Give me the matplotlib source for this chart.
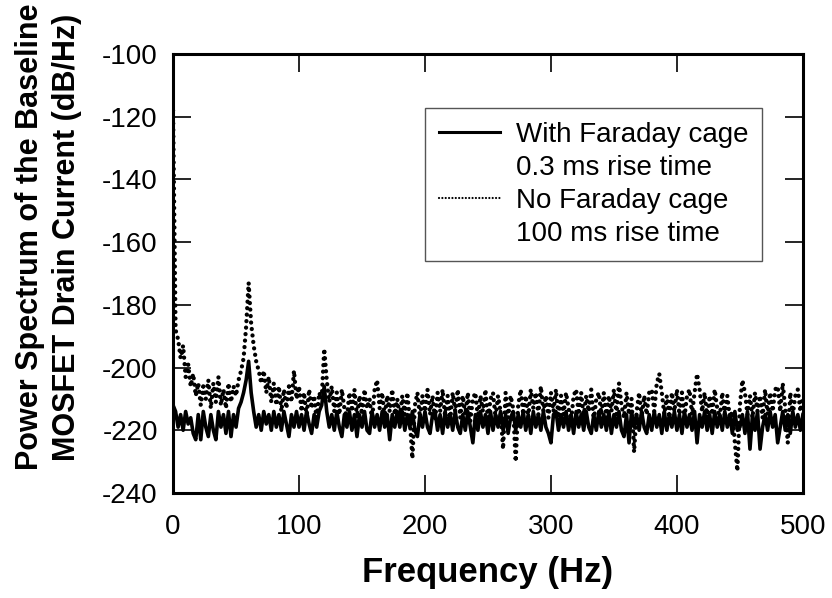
import numpy as np
import matplotlib
matplotlib.use('Agg')
from matplotlib import pyplot as plt
from matplotlib.lines import Line2D

plt.rcParams['font.family'] = ['Liberation Sans', 'DejaVu Sans']
plt.rcParams['axes.unicode_minus'] = False

# ---- power spectrum (dB/Hz), one value every 2 Hz from 0 Hz
with_cage = [
    -212, -214, -219, -215, -220, -214, -218, -216, -221, -223,
    -215, -223, -214, -219, -222, -215, -220, -223, -214, -219,
    -215, -221, -214, -222, -215, -219, -213, -211, -208, -204,
    -198, -208, -214, -219, -215, -220, -214, -218, -215, -220,
    -214, -219, -215, -220, -214, -218, -222, -215, -219, -214,
    -219, -215, -220, -214, -218, -221, -215, -219, -214, -212,
    -206, -214, -219, -215, -220, -214, -219, -222, -215, -219,
    -214, -220, -215, -222, -215, -219, -214, -220, -221, -214,
    -219, -215, -220, -214, -219, -215, -223, -215, -219, -214,
    -219, -214, -220, -215, -219, -214, -220, -222, -215, -219,
    -214, -219, -221, -215, -214, -220, -215, -221, -214, -219,
    -215, -220, -214, -219, -221, -215, -220, -214, -219, -224,
    -215, -220, -214, -219, -215, -221, -214, -220, -215, -219,
    -214, -220, -215, -221, -216, -214, -220, -215, -219, -214,
    -220, -215, -221, -214, -219, -215, -220, -214, -219, -221,
    -224, -215, -214, -220, -215, -219, -214, -220, -215, -221,
    -214, -219, -215, -220, -214, -219, -221, -215, -220, -214,
    -219, -215, -220, -214, -221, -215, -219, -214, -220, -222,
    -215, -224, -214, -219, -215, -220, -214, -219, -221, -215,
    -220, -214, -219, -215, -221, -214, -220, -215, -219, -214,
    -220, -215, -221, -214, -219, -215, -220, -214, -224, -215,
    -219, -214, -220, -215, -221, -214, -219, -215, -220, -214,
    -219, -215, -221, -214, -220, -219, -215, -221, -214, -226,
    -215, -220, -214, -226, -219, -215, -220, -214, -219, -215,
    -224, -219, -214, -220, -215, -221, -214, -219, -215, -220,
    -215]

no_cage = [
    -118, -188, -191, -197, -193, -203, -199, -206, -202, -209,
    -205, -212, -206, -210, -204, -213, -205, -211, -203, -212,
    -207, -213, -205, -211, -206, -209, -204, -201, -197, -187,
    -173, -186, -193, -198, -201, -205, -201, -208, -203, -211,
    -205, -212, -206, -214, -207, -213, -206, -211, -201, -210,
    -206, -214, -208, -216, -207, -213, -209, -217, -208, -210,
    -194, -204, -211, -206, -214, -208, -215, -207, -213, -216,
    -208, -214, -207, -216, -209, -215, -207, -213, -210, -217,
    -207, -204, -213, -208, -216, -209, -214, -207, -215, -210,
    -216, -209, -215, -208, -217, -229, -212, -208, -216, -209,
    -214, -207, -215, -209, -217, -208, -214, -207, -216, -209,
    -217, -208, -214, -207, -216, -209, -215, -208, -217, -210,
    -208, -216, -209, -214, -207, -217, -210, -208, -216, -209,
    -214, -226, -208, -216, -209, -213, -230, -212, -207, -215,
    -209, -216, -207, -213, -208, -215, -206, -214, -209, -216,
    -208, -214, -207, -216, -209, -215, -208, -213, -217, -209,
    -207, -215, -208, -216, -209, -214, -207, -217, -210, -208,
    -215, -208, -216, -209, -214, -207, -215, -205, -212, -216,
    -208, -215, -210, -227, -214, -208, -216, -209, -215, -208,
    -207, -214, -205, -202, -208, -215, -209, -216, -208, -214,
    -207, -215, -208, -216, -209, -207, -215, -208, -202, -207,
    -214, -208, -216, -209, -215, -207, -213, -216, -208, -215,
    -209, -216, -214, -224, -233, -212, -204, -208, -215, -209,
    -216, -208, -214, -209, -216, -207, -215, -208, -214, -207,
    -206, -214, -205, -213, -224, -208, -215, -209, -207, -214,
    -209]

f_with = 2 * np.arange(len(with_cage))
f_no = 2 * np.arange(len(no_cage))

x_ticks = [0, 100, 200, 300, 400, 500]
y_ticks = [-240, -220, -200, -180, -160, -140, -120, -100]

fig = plt.figure(figsize=(8.32, 5.98), dpi=100)
ax = fig.add_axes([0.208, 0.1756, 0.757, 0.7341])

dotted = (0, (0.01, 1.5))
ax.plot(f_no, no_cage, color='black', linewidth=3.1, linestyle=dotted,
        dash_capstyle='round')
ax.plot(f_with, with_cage, color='black', linewidth=2.6)

ax.set_xlim(0, 500)
ax.set_ylim(-240, -100)
ax.set_xticks(x_ticks)
ax.set_yticks(y_ticks)
ax.tick_params(direction='in', length=13, width=1.2, top=True, right=True,
               labelsize=20)
ax.tick_params(axis='x', pad=15)
ax.tick_params(axis='y', pad=11)
for s in ax.spines.values():
    s.set_linewidth(2.2)

ax.set_xlabel('Frequency (Hz)', fontsize=25, fontweight='bold')
ax.xaxis.set_label_coords(0.5, -0.143)
ax.set_ylabel('Power Spectrum of the Baseline\nMOSFET Drain Current (dB/Hz)',
              fontsize=22, fontweight='bold', linespacing=1.3)
ax.yaxis.set_label_coords(-0.145, 0.583)

# legend: four rows, the 2nd and 4th without a line
handles = [Line2D([], [], color='black', linewidth=2.2),
           Line2D([], [], color='none'),
           Line2D([], [], color='black', linewidth=1.6, linestyle=dotted,
                  dash_capstyle='round'),
           Line2D([], [], color='none')]
labels = ['With Faraday cage', '0.3 ms rise time',
          'No Faraday cage', '100 ms rise time']
leg = ax.legend(handles, labels, loc='upper right', bbox_to_anchor=(0.935, 0.877),
                borderaxespad=0, fontsize=20, handlelength=2.2,
                handletextpad=0.55, labelspacing=0.25, borderpad=0.5,
                fancybox=False, framealpha=1)
leg.get_frame().set_edgecolor('#555555')
leg.get_frame().set_linewidth(1.0)

plt.savefig('out.png', dpi=100)
